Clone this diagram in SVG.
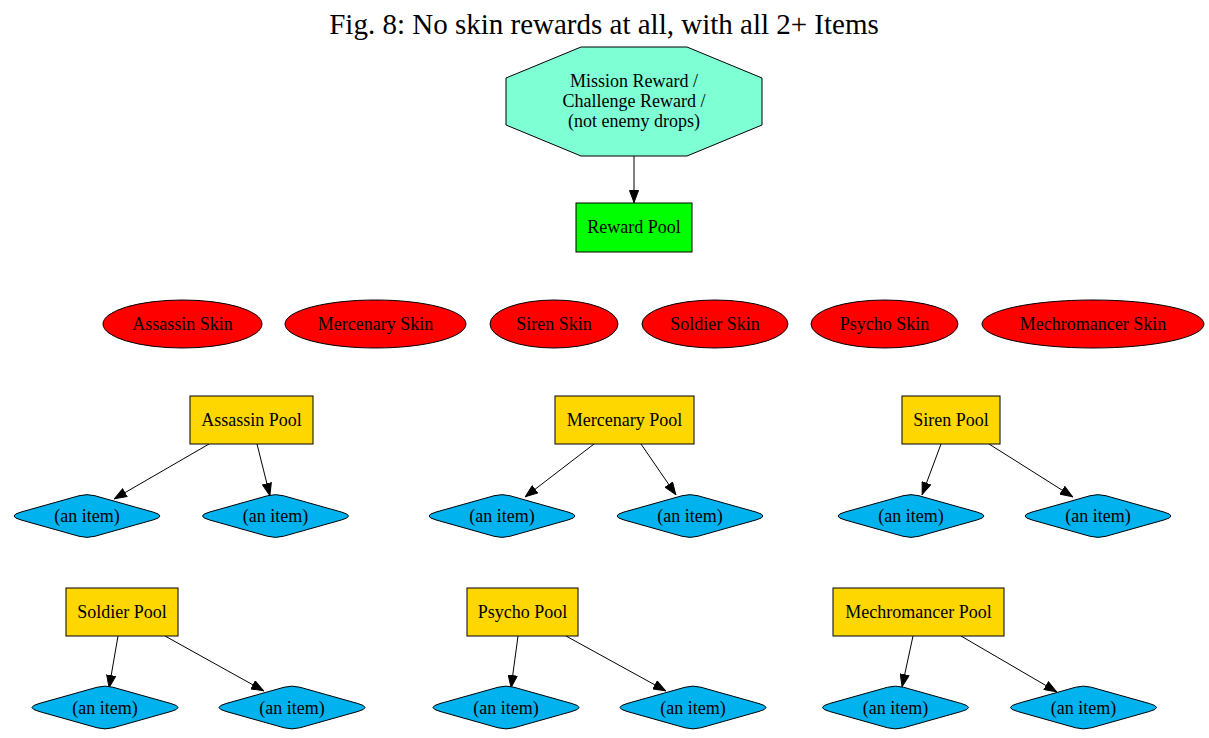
<svg xmlns="http://www.w3.org/2000/svg" width="1209" height="738" viewBox="0 0 1209 738">
<style>
text{font-family:"Liberation Serif","Times New Roman",serif;font-size:18px;text-anchor:middle;fill:#000}
.t{font-size:29px}
.box{stroke:#000;stroke-width:1}
.pool{fill:#ffd700}
.skin{fill:#ff0000;stroke:#000}
.item{fill:#00b2ee;stroke:#000}
.e{stroke:#000;stroke-width:1;fill:none;marker-end:url(#ah)}
</style>
<defs>
<marker id="ah" viewBox="0 0 13 10" refX="13" refY="5" markerWidth="13" markerHeight="10" markerUnits="userSpaceOnUse" orient="auto">
<path d="M0.5,0.5 L12.5,5 L0.5,9.5 Z" fill="#000" stroke="#000"/>
</marker>
<path id="dia" d="M -8,-20.25 Q 0,-22.5 8,-20.25 L 66,-3.94 Q 80,0 66,3.94 L 8,20.25 Q 0,22.5 -8,20.25 L -66,3.94 Q -80,0 -66,-3.94 Z"/>
</defs>
<rect width="1209" height="738" fill="#fff"/>
<text class="t" x="604" y="34">Fig. 8: No skin rewards at all, with all 2+ Items</text>

<g id="connectors">
<line class="e" x1="634" y1="156" x2="634" y2="203"/>
<line class="e" x1="209" y1="444" x2="114" y2="499"/>
<line class="e" x1="257" y1="444" x2="270" y2="496"/>
<line class="e" x1="594" y1="444" x2="525" y2="497"/>
<line class="e" x1="641" y1="444" x2="676" y2="495"/>
<line class="e" x1="941" y1="444" x2="922" y2="495"/>
<line class="e" x1="989" y1="444" x2="1073" y2="497"/>
<line class="e" x1="118" y1="636" x2="109" y2="688"/>
<line class="e" x1="165" y1="636" x2="264" y2="691"/>
<line class="e" x1="518" y1="636" x2="511" y2="688"/>
<line class="e" x1="566" y1="636" x2="666" y2="691"/>
<line class="e" x1="913" y1="636" x2="902" y2="687"/>
<line class="e" x1="961" y1="636" x2="1057" y2="692"/>
</g>

<g id="mission">
<polygon class="box" fill="#7fffd4" points="581,47 687,47 762,78 762,125 687,156 581,156 506,125 506,78"/>
<text x="634" y="87">Mission Reward /</text>
<text x="634" y="107">Challenge Reward /</text>
<text x="634" y="127">(not enemy drops)</text>
</g>
<g id="reward_pool">
<rect class="box" fill="#00ff00" x="576" y="203" width="116" height="49"/>
<text x="634" y="233">Reward Pool</text>
</g>

<g id="skin_assassin"><ellipse class="skin" cx="182.5" cy="324" rx="79.5" ry="24"/><text x="182.5" y="330">Assassin Skin</text></g>
<g id="skin_mercenary"><ellipse class="skin" cx="375.5" cy="324" rx="90.5" ry="24"/><text x="375.5" y="330">Mercenary Skin</text></g>
<g id="skin_siren"><ellipse class="skin" cx="554" cy="324" rx="64" ry="24"/><text x="554" y="330">Siren Skin</text></g>
<g id="skin_soldier"><ellipse class="skin" cx="715" cy="324" rx="73" ry="24"/><text x="715" y="330">Soldier Skin</text></g>
<g id="skin_psycho"><ellipse class="skin" cx="884.5" cy="324" rx="73.5" ry="24"/><text x="884.5" y="330">Psycho Skin</text></g>
<g id="skin_mechromancer"><ellipse class="skin" cx="1093" cy="324" rx="111" ry="24"/><text x="1093" y="330">Mechromancer Skin</text></g>

<g id="pool_assassin"><rect class="box pool" x="190" y="396" width="123" height="48"/><text x="251.5" y="426">Assassin Pool</text></g>
<g id="pool_mercenary"><rect class="box pool" x="555" y="396" width="139" height="48"/><text x="624.5" y="426">Mercenary Pool</text></g>
<g id="pool_siren"><rect class="box pool" x="902" y="396" width="98" height="48"/><text x="951" y="426">Siren Pool</text></g>
<g id="pool_soldier"><rect class="box pool" x="66" y="588" width="112" height="48"/><text x="122" y="618">Soldier Pool</text></g>
<g id="pool_psycho"><rect class="box pool" x="467" y="588" width="111" height="48"/><text x="522.5" y="618">Psycho Pool</text></g>
<g id="pool_mechromancer"><rect class="box pool" x="833" y="588" width="171" height="48"/><text x="918.5" y="618">Mechromancer Pool</text></g>

<g id="item_a1"><use href="#dia" class="item" x="87" y="516"/><text x="87" y="522">(an item)</text></g>
<g id="item_a2"><use href="#dia" class="item" x="275.5" y="516"/><text x="275.5" y="522">(an item)</text></g>
<g id="item_m1"><use href="#dia" class="item" x="502" y="516"/><text x="502" y="522">(an item)</text></g>
<g id="item_m2"><use href="#dia" class="item" x="690" y="516"/><text x="690" y="522">(an item)</text></g>
<g id="item_s1"><use href="#dia" class="item" x="911" y="516"/><text x="911" y="522">(an item)</text></g>
<g id="item_s2"><use href="#dia" class="item" x="1098" y="516"/><text x="1098" y="522">(an item)</text></g>
<g id="item_so1"><use href="#dia" class="item" x="105" y="707.5"/><text x="105" y="713.5">(an item)</text></g>
<g id="item_so2"><use href="#dia" class="item" x="292" y="707.5"/><text x="292" y="713.5">(an item)</text></g>
<g id="item_p1"><use href="#dia" class="item" x="506" y="707.5"/><text x="506" y="713.5">(an item)</text></g>
<g id="item_p2"><use href="#dia" class="item" x="693" y="707.5"/><text x="693" y="713.5">(an item)</text></g>
<g id="item_mc1"><use href="#dia" class="item" x="895.5" y="707.5"/><text x="895.5" y="713.5">(an item)</text></g>
<g id="item_mc2"><use href="#dia" class="item" x="1083.5" y="707.5"/><text x="1083.5" y="713.5">(an item)</text></g>
</svg>
